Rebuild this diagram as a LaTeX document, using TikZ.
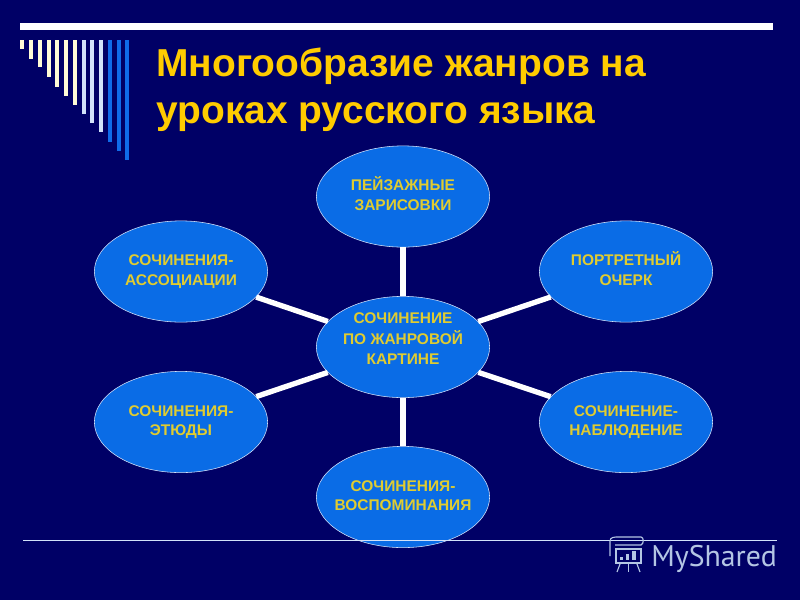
\documentclass[tikz,border=0pt]{standalone}
\usepackage{fontspec}
\setmainfont{Liberation Sans}
\newfontfamily\logofont{PT Sans}
\usetikzlibrary{shapes.geometric}
\definecolor{slidebg}{HTML}{000066}
\definecolor{titleyellow}{HTML}{FFCC00}
\definecolor{genreblue}{HTML}{0A6CE6}
\definecolor{genretext}{HTML}{E0CC30}
\definecolor{barcream}{HTML}{FFFBD6}
\definecolor{barpale}{HTML}{D2E2FA}
\definecolor{barblue}{HTML}{0F6BEA}
\definecolor{logogrey}{HTML}{B4C6E4}
\tikzset{
  genre/.style={ellipse,draw=barpale,line width=0.4pt,fill=genreblue,minimum width=4.33cm,minimum height=2.53cm,
    inner xsep=-10pt,inner ysep=-5pt,text=genretext,align=center,font=\fontsize{11}{14}\selectfont\bfseries},
  spoke/.style={white,line width=3.8pt},
  heading/.style={anchor=base west,inner sep=0pt,text=titleyellow,font=\fontsize{27.7}{30}\selectfont\bfseries},
}
\begin{document}
\begin{tikzpicture}[x=0.025cm,y=-0.025cm]
\fill [slidebg] (0,0) rectangle (800,600);
\useasboundingbox (0,0) rectangle (800,600);
% bars
\fill [white] (20,23) rectangle (773,30);
\foreach \x/\b/\c in {22/49/barcream,31/59/barcream,39.7/67/barcream,48.7/77/barcream,57/87/barcream,66/96/barcream,75/105/barcream,83.7/114/barpale,92.3/123/barpale,101/132/barpale,109.7/142/barblue,118.7/151/barblue,127/160/barblue}
  \fill [\c] (\x-2,40) rectangle (\x+2,\b);
% title
\node (title1) [heading] at (156,76) {Многообразие жанров на};
\node (title2) [heading] at (156,123) {уроках русского языка};
% ellipses
\node (center) [genre] at (403,347) {\strut СОЧИНЕНИЕ\\ПО ЖАНРОВОЙ\\КАРТИНЕ\\\mbox{}};
\node (peizazh) [genre] at (403,196.5) {\strut ПЕЙЗАЖНЫЕ\\ЗАРИСОВКИ\strut};
\node (portret) [genre] at (626,271.5) {\strut ПОРТРЕТНЫЙ\\ОЧЕРК\strut};
\node (nabl) [genre] at (626,422) {\strut СОЧИНЕНИЕ-\\НАБЛЮДЕНИЕ\strut};
\node (vospom) [genre] at (403,497) {\strut СОЧИНЕНИЯ-\\ВОСПОМИНАНИЯ\strut};
\node (etyud) [genre] at (181,422) {\strut СОЧИНЕНИЯ-\\ЭТЮДЫ\strut};
\node (assoc) [genre] at (181,271.5) {\strut СОЧИНЕНИЯ-\\АССОЦИАЦИИ\strut};
\foreach \n in {peizazh,portret,nabl,vospom,etyud,assoc}
  \draw [spoke] (center) -- (\n);
% footer
\draw [barpale,line width=0.5pt] (23,540.5) -- (777,540.5);
\node (logo) [anchor=base west,inner sep=0pt,text=logogrey,font=\logofont\fontsize{21.2}{24}\selectfont] at (651,566) {MyShared};
\begin{scope}[logogrey,line width=0.8pt]
\draw (616,549) rectangle (641,563);
\draw (610,556) -- (610,541) .. controls (610,537) and (615,537) .. (617,537) -- (641,537) .. controls (644,537) and (644,544) .. (641,545) -- (615,545);
\draw (620,564) -- (617,572);
\draw (628.5,564) -- (628.5,572);
\draw (637,564) -- (640,572);
\fill (620,557) rectangle (623,560);
\fill (626,554) rectangle (629,560);
\fill (632,551) rectangle (636,560);
\end{scope}
\end{tikzpicture}
\end{document}
